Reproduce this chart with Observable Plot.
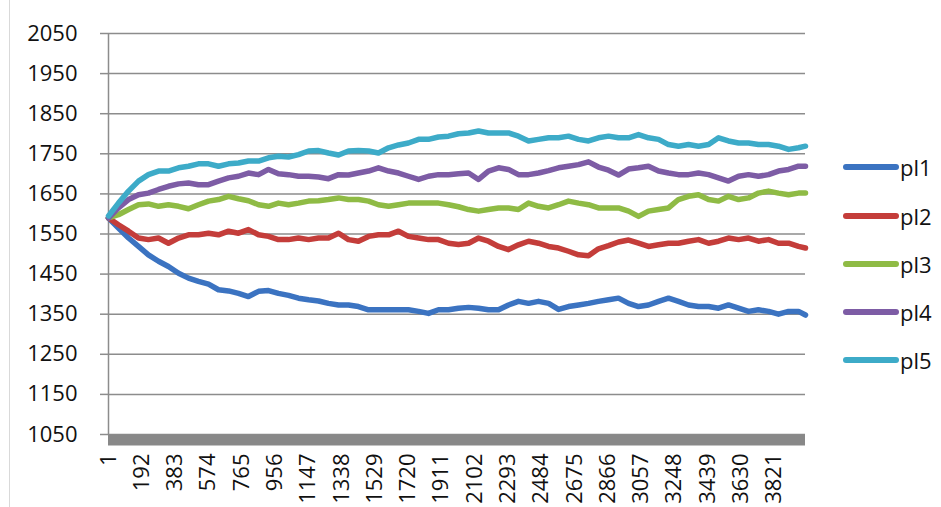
<!DOCTYPE html>
<html>
<head>
<meta charset="utf-8">
<script src="https://cdn.jsdelivr.net/npm/d3@7"></script>
<script src="https://cdn.jsdelivr.net/npm/@observablehq/plot@0.6"></script>
<style>
  html, body { margin: 0; padding: 0; background: #fff; }
  #wrap { position: relative; width: 941px; height: 507px; overflow: hidden; font-family: "Open Sans", sans-serif; }
  #frame { position: absolute; left: 9px; top: 0; width: 1px; height: 507px; background: #d9d9d9; }
  .leg { position: absolute; left: 843px; height: 30px; display: flex; align-items: center; font-size: 22px; color: #111; }
  .leg .sw { width: 56px; height: 6px; border-radius: 3px; margin-right: 1px; }
</style>
</head>
<body>
<div id="wrap"><div id="frame"></div></div>
<script>
// Category index (x) of each sampled point
const idx = [1,58,116,173,230,288,345,403,460,517,575,632,690,747,804,862,919,976,1034,1091,1149,1206,1263,1321,1378,1435,1493,1550,1608,1665,1722,1780,1837,1894,1952,2009,2067,2124,2181,2239,2296,2353,2411,2468,2526,2583,2640,2698,2755,2812,2870,2927,2985,3042,3099,3157,3214,3271,3329,3386,3444,3501,3558,3616,3673,3730,3788,3845,3903,3960,4000];

const pl1 = [1590,1565,1540,1519,1498,1482,1469,1452,1440,1432,1425,1411,1408,1402,1394,1407,1409,1402,
  1397,1390,1386,1383,1377,1373,1373,1369,1361,1361,1361,1361,1361,1357,1352,1361,1361,1365,
  1367,1365,1361,1361,1373,1382,1377,1382,1377,1362,1369,1373,1377,1382,1386,1390,1377,
  1369,1373,1382,1390,1382,1373,1369,1369,1365,1373,1365,1357,1361,1357,1350,1357,1357,1348];

const pl2 = [1590,1573,1557,1540,1536,1540,1527,1540,1548,1548,1552,1548,1557,1552,1561,1548,1544,1536,
  1536,1540,1536,1540,1540,1552,1536,1532,1544,1548,1548,1557,1544,1540,1536,1536,1527,1524,
  1527,1540,1532,1519,1511,1523,1532,1527,1519,1515,1507,1498,1496,1513,1521,1530,1535,
  1527,1519,1523,1527,1527,1532,1536,1527,1532,1540,1536,1540,1532,1536,1527,1527,1519,1515];

const pl3 = [1590,1598,1611,1623,1625,1619,1623,1619,1613,1623,1632,1636,1644,1638,1633,1623,1619,1627,
  1623,1627,1632,1633,1636,1640,1636,1636,1632,1623,1619,1623,1627,1627,1627,1627,1623,1618,
  1611,1607,1611,1615,1615,1611,1627,1619,1615,1623,1632,1627,1623,1615,1615,1615,1607,
  1594,1607,1611,1615,1636,1644,1648,1636,1632,1644,1636,1640,1652,1657,1652,1648,1652,1652];

const pl4 = [1590,1615,1636,1648,1652,1661,1669,1675,1677,1673,1673,1682,1690,1694,1702,1698,1711,1700,
  1698,1694,1694,1692,1688,1698,1697,1702,1707,1715,1707,1702,1694,1686,1694,1698,1698,1700,
  1702,1686,1707,1715,1711,1698,1698,1702,1708,1715,1719,1723,1730,1717,1709,1697,1712,
  1715,1719,1707,1702,1698,1698,1702,1698,1690,1682,1694,1698,1694,1698,1707,1711,1719,1719];

const pl5 = [1595,1627,1657,1682,1698,1707,1707,1715,1719,1725,1725,1719,1725,1727,1732,1732,1740,1744,
  1742,1748,1757,1758,1752,1747,1757,1758,1757,1752,1765,1772,1777,1786,1786,1792,1794,1800,
  1802,1807,1802,1802,1802,1794,1782,1786,1790,1790,1794,1786,1782,1790,1794,1790,1790,
  1798,1790,1786,1773,1769,1773,1769,1773,1790,1782,1777,1777,1773,1773,1769,1761,1765,1769];

const seriesNames = ["pl1","pl2","pl3","pl4","pl5"];
const seriesValues = [pl1, pl2, pl3, pl4, pl5];
const colors = ["#3b73c1","#c43d3a","#8fbb45","#7d5ca5","#3dabc8"];
const yTicks = [1050,1150,1250,1350,1450,1550,1650,1750,1850,1950,2050];
const xTicks = [1,192,383,574,765,956,1147,1338,1529,1720,1911,2102,2293,2484,2675,2866,3057,3248,3439,3630,3821];

const data = [];
seriesNames.forEach((s, i) => {
  seriesValues[i].forEach((v, j) => data.push({series: s, idx: idx[j], value: v}));
});

const chart = Plot.plot({
  width: 941,
  height: 507,
  marginLeft: 108,
  marginRight: 136,
  marginTop: 33,
  marginBottom: 73,
  style: {fontFamily: '"Open Sans", sans-serif', fontSize: "22px", color: "#111", background: "transparent"},
  x: {domain: [1, 4000], axis: null},
  y: {domain: [1050, 2050], axis: null},
  color: {domain: seriesNames, range: colors},
  marks: [
    Plot.ruleY(yTicks, {stroke: "#8c8c8c", strokeWidth: 1.5, strokeOpacity: 1}),
    Plot.axisY({ticks: yTicks, label: null, tickSize: 8, tickPadding: 23, fontSize: 22, stroke: "#8c8c8c", strokeWidth: 1.5, tickFormat: d => String(d)}),
    Plot.ruleX([1], {y1: 1050, y2: 2050, stroke: "#8c8c8c", strokeWidth: 1.5}),
    Plot.ruleY([1050], {stroke: "#888888", strokeWidth: 11, dy: 5.5}),
    Plot.line(data, {x: "idx", y: "value", z: "series", stroke: "series", strokeWidth: 5.5, strokeLinejoin: "round", strokeLinecap: "round"}),
    Plot.axisX({ticks: xTicks, label: null, tickSize: 0, tickPadding: 19, tickRotate: -90, fontSize: 22, tickFormat: d => String(d)})
  ]
});
const wrap = document.getElementById("wrap");
chart.style.position = "absolute";
chart.style.left = "0";
chart.style.top = "0";
wrap.appendChild(chart);

const legendY = [167, 216, 264, 312, 360];
seriesNames.forEach((s, i) => {
  const item = document.createElement("div");
  item.className = "leg";
  item.style.top = (legendY[i] - 15) + "px";
  const sw = document.createElement("span");
  sw.className = "sw";
  sw.style.background = colors[i];
  const t = document.createElement("span");
  t.textContent = s;
  item.appendChild(sw);
  item.appendChild(t);
  wrap.appendChild(item);
});
</script>
</body>
</html>
